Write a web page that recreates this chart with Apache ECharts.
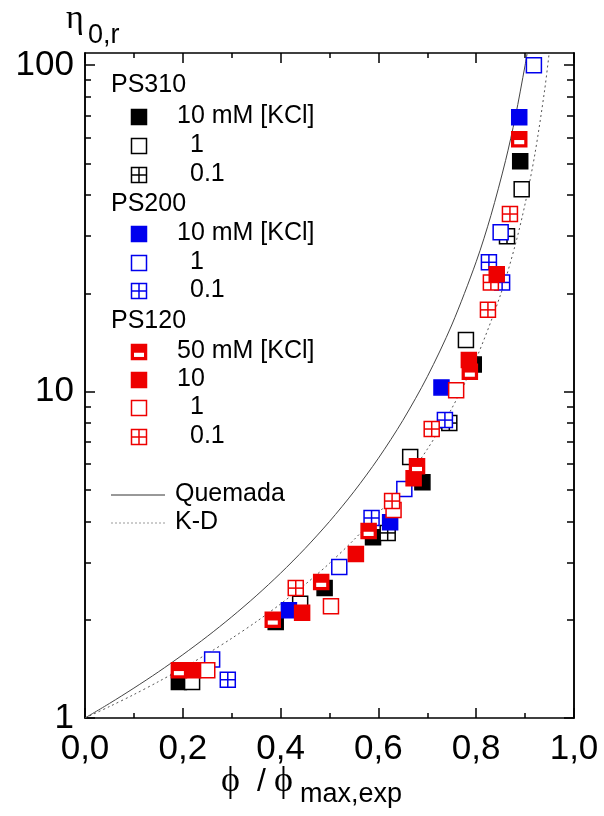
<!DOCTYPE html>
<html>
<head>
<meta charset="utf-8">
<script src="https://cdn.jsdelivr.net/npm/echarts@6/dist/echarts.min.js"></script>
<style>
  html, body { margin: 0; padding: 0; background: #fff; }
  #chart { width: 604px; height: 816px; }
</style>
</head>
<body>
<div id="chart"></div>
<script>
// ---- axis ticks ----
const xTickStep = 0.2;
const yMajorTicks = [1, 10, 100];
const yMinorTicks = [2, 3, 4, 5, 6, 7, 8, 9, 20, 30, 40, 50, 60, 70, 80, 90];

// ---- measurements: [phi / phi_max,exp , eta_0,r] ----
// PS310
const ps310_10mM = [[0.192, 1.29], [0.390, 1.97], [0.490, 2.50], [0.589, 3.58], [0.690, 5.28], [0.795, 12.1], [0.890, 50.8]];
const ps310_1mM = [[0.219, 1.29], [0.440, 2.24], [0.665, 6.30], [0.779, 14.4], [0.893, 41.7]];
const ps310_01mM = [[0.619, 3.69], [0.745, 8.01], [0.863, 29.9]];
// PS200
const ps200_10mM = [[0.417, 2.14], [0.624, 3.98], [0.729, 10.3], [0.888, 69.3]];
const ps200_1mM = [[0.260, 1.51], [0.520, 2.90], [0.653, 5.03], [0.850, 30.8], [0.918, 100]];
const ps200_01mM = [[0.292, 1.31], [0.586, 4.10], [0.736, 8.18], [0.826, 24.9], [0.853, 21.6]];
// PS120
const ps120_50mM = [[0.192, 1.40], [0.384, 2.00], [0.483, 2.61], [0.580, 3.74], [0.679, 5.91], [0.787, 11.5], [0.888, 59.3]];
const ps120_10mM = [[0.221, 1.40], [0.444, 2.10], [0.554, 3.18], [0.672, 5.43], [0.785, 12.5], [0.842, 22.9]];
const ps120_1mM = [[0.250, 1.40], [0.503, 2.20], [0.631, 4.34], [0.759, 10.1]];
const ps120_01mM = [[0.431, 2.50], [0.628, 4.62], [0.709, 7.68], [0.824, 17.8], [0.830, 21.6], [0.869, 35.0]];

// ---- model curves ----
const quemadaCurve = [
  [0, 1], [0.05, 1.108], [0.10, 1.235], [0.15, 1.384], [0.20, 1.563], [0.25, 1.778],
  [0.30, 2.041], [0.35, 2.367], [0.40, 2.778], [0.45, 3.306], [0.50, 4.00], [0.55, 4.938],
  [0.60, 6.25], [0.65, 8.163], [0.70, 11.11], [0.75, 16.0], [0.80, 25.0], [0.83, 34.6],
  [0.86, 51.0], [0.88, 69.4], [0.90, 100], [0.905, 110.8]
];
const kdCurve = [
  [0, 1], [0.05, 1.084], [0.10, 1.180], [0.15, 1.292], [0.20, 1.421], [0.25, 1.573],
  [0.30, 1.754], [0.35, 1.971], [0.40, 2.236], [0.45, 2.564], [0.50, 2.979], [0.55, 3.517],
  [0.60, 4.234], [0.65, 5.225], [0.70, 6.661], [0.75, 8.877], [0.80, 12.62], [0.85, 19.85],
  [0.88, 28.2], [0.90, 37.6], [0.92, 53.4], [0.94, 84.0], [0.95, 111.6]
];

const BLACK = '#000000';
const BLUE = '#0000ee';
const RED = '#ee0000';
const SYM = 15;
const FONT = 'Liberation Sans, Arial, sans-serif';
const SERIF = 'Liberation Serif, Times New Roman, serif';

// square marker: filled, open, crossed (2x2 grid) or half (red with white bar)
function squareShape(kind, color, cx, cy, s) {
  const h = s / 2, x = cx - h, y = cy - h, lw = 1.5;
  const kids = [];
  if (kind === 'filled') {
    kids.push({ type: 'rect', shape: { x, y, width: s, height: s }, style: { fill: color, stroke: color, lineWidth: lw } });
  } else if (kind === 'half') {
    kids.push({ type: 'rect', shape: { x, y, width: s, height: s }, style: { fill: color, stroke: color, lineWidth: lw } });
    kids.push({ type: 'rect', shape: { x: x + 2.5, y: y + s * 0.55, width: s - 5, height: s * 0.28 }, style: { fill: '#fff' } });
  } else {
    kids.push({ type: 'rect', shape: { x, y, width: s, height: s }, style: { fill: '#fff', stroke: color, lineWidth: lw } });
    if (kind === 'crossed') {
      kids.push({ type: 'line', shape: { x1: cx, y1: y, x2: cx, y2: y + s }, style: { stroke: color, lineWidth: lw } });
      kids.push({ type: 'line', shape: { x1: x, y1: cy, x2: x + s, y2: cy }, style: { stroke: color, lineWidth: lw } });
    }
  }
  return kids;
}

function markerSeries(name, data, kind, color) {
  return {
    name, type: 'custom', data, xAxisIndex: 0, yAxisIndex: 0, clip: true,
    renderItem: function (params, api) {
      const p = api.coord([api.value(0), api.value(1)]);
      return { type: 'group', children: squareShape(kind, color, p[0], p[1], SYM) };
    }
  };
}

// ---- legend (drawn as graphic elements) ----
const LEG_FONT = '25px ' + FONT;
const legendGraphics = [];
function legendHeader(label, y) {
  legendGraphics.push({ type: 'text', left: 111, top: y - 13, style: { text: label, font: LEG_FONT, fill: '#000' } });
}
function legendRow(label, kind, color, y, textX) {
  legendGraphics.push({ type: 'group', children: squareShape(kind, color, 139, y, SYM) });
  legendGraphics.push({ type: 'text', left: textX, top: y - 13, style: { text: label, font: LEG_FONT, fill: '#000' } });
}
legendHeader('PS310', 86);
legendRow('10 mM [KCl]', 'filled', BLACK, 117, 177);
legendRow('1', 'open', BLACK, 146, 190);
legendRow('0.1', 'crossed', BLACK, 175, 190);
legendHeader('PS200', 205);
legendRow('10 mM [KCl]', 'filled', BLUE, 234, 177);
legendRow('1', 'open', BLUE, 263, 190);
legendRow('0.1', 'crossed', BLUE, 291, 190);
legendHeader('PS120', 322);
legendRow('50 mM [KCl]', 'half', RED, 352, 177);
legendRow('10', 'filled', RED, 380, 177);
legendRow('1', 'open', RED, 408, 190);
legendRow('0.1', 'crossed', RED, 437, 190);
legendGraphics.push({ type: 'line', shape: { x1: 111, y1: 495, x2: 165, y2: 495 }, style: { stroke: '#333', lineWidth: 1 } });
legendGraphics.push({ type: 'text', left: 175, top: 482, style: { text: 'Quemada', font: LEG_FONT, fill: '#000' } });
legendGraphics.push({ type: 'line', shape: { x1: 111, y1: 523, x2: 165, y2: 523 }, style: { stroke: '#999', lineWidth: 1, lineDash: [2, 2] } });
legendGraphics.push({ type: 'text', left: 175, top: 510, style: { text: 'K-D', font: LEG_FONT, fill: '#000' } });

// axis titles
legendGraphics.push({ type: 'text', left: 66, top: 2, style: { text: 'η', font: '34px ' + SERIF, fill: '#000' } });
legendGraphics.push({ type: 'text', left: 88, top: 22, style: { text: '0,r', font: '27px ' + FONT, fill: '#000' } });
legendGraphics.push({ type: 'text', left: 221, top: 764, style: { text: 'ϕ', font: '36px ' + SERIF, fill: '#000' } });
legendGraphics.push({ type: 'text', left: 257, top: 766, style: { text: '/', font: '32px ' + FONT, fill: '#000' } });
legendGraphics.push({ type: 'text', left: 274, top: 764, style: { text: 'ϕ', font: '36px ' + SERIF, fill: '#000' } });
legendGraphics.push({ type: 'text', left: 300, top: 781, style: { text: 'max,exp', font: '27px ' + FONT, fill: '#000' } });

const axisLineStyle = { color: '#000', width: 1.5 };
const fmtX = v => v.toFixed(1).replace('.', ',');

function xAxisDef(position, showLabels) {
  return {
    type: 'value', position, min: 0, max: 1, interval: xTickStep,
    axisLine: { show: true, onZero: false, lineStyle: axisLineStyle },
    axisTick: { show: true, inside: true, length: 10, lineStyle: { color: '#000', width: 1.5 } },
    minorTick: { show: true, splitNumber: 2, length: 5, lineStyle: { color: '#000', width: 1.5 } },
    axisLabel: { show: showLabels, formatter: fmtX, fontSize: 35, fontFamily: FONT, color: '#000', margin: 14 },
    splitLine: { show: false }, minorSplitLine: { show: false }
  };
}
function yAxisDef(position, tickValues, tickLen, showLabels) {
  return {
    type: 'log', logBase: 10, position, min: 1, max: 109,
    axisLine: { show: true, onZero: false, lineStyle: axisLineStyle },
    axisTick: { show: true, inside: true, length: tickLen, customValues: tickValues, lineStyle: { color: '#000', width: 1.5 } },
    axisLabel: { show: showLabels, customValues: yMajorTicks, fontSize: 35, fontFamily: FONT, color: '#000', margin: 11 },
    splitLine: { show: false }
  };
}

const chart = echarts.init(document.getElementById('chart'), null, { renderer: 'canvas' });
chart.setOption({
  animation: false,
  backgroundColor: '#fff',
  grid: { left: 85, right: 30, top: 53, bottom: 98 },
  xAxis: [xAxisDef('bottom', true), xAxisDef('top', false)],
  yAxis: [
    yAxisDef('left', yMajorTicks, 10, true),
    yAxisDef('left', yMinorTicks, 6, false),
    yAxisDef('right', yMajorTicks, 10, false),
    yAxisDef('right', yMinorTicks, 7, false)
  ],
  graphic: legendGraphics,
  series: [
    { name: 'Quemada', type: 'line', data: quemadaCurve, showSymbol: false, smooth: 0.3, clip: true,
      lineStyle: { color: '#444', width: 1 }, z: 1 },
    { name: 'K-D', type: 'line', data: kdCurve, showSymbol: false, smooth: 0.3, clip: true,
      lineStyle: { color: '#555', width: 1, type: [2, 3] }, z: 1 },
    markerSeries('PS310 10 mM', ps310_10mM, 'filled', BLACK),
    markerSeries('PS310 1 mM', ps310_1mM, 'open', BLACK),
    markerSeries('PS310 0.1 mM', ps310_01mM, 'crossed', BLACK),
    markerSeries('PS200 10 mM', ps200_10mM, 'filled', BLUE),
    markerSeries('PS200 1 mM', ps200_1mM, 'open', BLUE),
    markerSeries('PS200 0.1 mM', ps200_01mM, 'crossed', BLUE),
    markerSeries('PS120 1 mM', ps120_1mM, 'open', RED),
    markerSeries('PS120 0.1 mM', ps120_01mM, 'crossed', RED),
    markerSeries('PS120 10 mM', ps120_10mM, 'filled', RED),
    markerSeries('PS120 50 mM', ps120_50mM, 'half', RED)
  ]
});
</script>
</body>
</html>
